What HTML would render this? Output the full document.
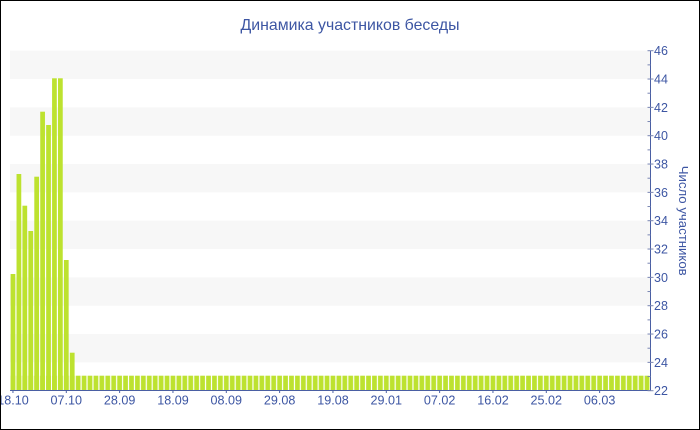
<!DOCTYPE html>
<html>
<head>
<meta charset="utf-8">
<style>
html,body{margin:0;padding:0;background:#fff;}
svg{display:block;}
text{font-family:"Liberation Sans","DejaVu Sans",sans-serif;fill:#3d56a3;}
</style>
</head>
<body>
<svg width="700" height="430" viewBox="0 0 700 430" xmlns="http://www.w3.org/2000/svg">
<defs>
<pattern id="bp" x="10" y="0" width="5.925926" height="430" patternUnits="userSpaceOnUse">
<rect x="0.6" y="0" width="4.73" height="430" fill="#bde22f"/>
</pattern>
</defs>
<rect x="0" y="0" width="700" height="430" fill="#fff"/>
<g fill="#f7f7f7">
<rect x="10" y="50.7" width="640" height="28.33"/>
<rect x="10" y="107.4" width="640" height="28.33"/>
<rect x="10" y="164.0" width="640" height="28.33"/>
<rect x="10" y="220.7" width="640" height="28.33"/>
<rect x="10" y="277.4" width="640" height="28.33"/>
<rect x="10" y="334.0" width="640" height="28.33"/>
</g>
<rect x="10" y="375.7" width="640" height="14.8" fill="url(#bp)"/>
<g fill="#bde22f">
<rect x="10.60" y="274" width="4.73" height="116.5"/>
<rect x="16.53" y="174" width="4.73" height="216.5"/>
<rect x="22.45" y="205.7" width="4.73" height="184.8"/>
<rect x="28.38" y="231" width="4.73" height="159.5"/>
<rect x="34.30" y="176.7" width="4.73" height="213.8"/>
<rect x="40.23" y="111.7" width="4.73" height="278.8"/>
<rect x="46.16" y="125" width="4.73" height="265.5"/>
<rect x="52.08" y="78.3" width="4.73" height="312.2"/>
<rect x="58.01" y="78.3" width="4.73" height="312.2"/>
<rect x="63.93" y="260" width="4.73" height="130.5"/>
<rect x="69.86" y="352.7" width="4.73" height="37.8"/>
</g>
<g stroke="#4a5fa3" stroke-width="1">
<line x1="650.5" y1="50.7" x2="650.5" y2="391"/>
<line x1="10" y1="390.5" x2="651" y2="390.5"/>
</g>
<g stroke="#7a86b3" stroke-width="1">
<line x1="647.5" x2="653.5" y1="390.7" y2="390.7"/>
<line x1="647.5" x2="650.5" y1="376.53" y2="376.53"/>
<line x1="647.5" x2="653.5" y1="362.37" y2="362.37"/>
<line x1="647.5" x2="650.5" y1="348.2" y2="348.2"/>
<line x1="647.5" x2="653.5" y1="334.03" y2="334.03"/>
<line x1="647.5" x2="650.5" y1="319.87" y2="319.87"/>
<line x1="647.5" x2="653.5" y1="305.7" y2="305.7"/>
<line x1="647.5" x2="650.5" y1="291.53" y2="291.53"/>
<line x1="647.5" x2="653.5" y1="277.37" y2="277.37"/>
<line x1="647.5" x2="650.5" y1="263.2" y2="263.2"/>
<line x1="647.5" x2="653.5" y1="249.03" y2="249.03"/>
<line x1="647.5" x2="650.5" y1="234.87" y2="234.87"/>
<line x1="647.5" x2="653.5" y1="220.7" y2="220.7"/>
<line x1="647.5" x2="650.5" y1="206.53" y2="206.53"/>
<line x1="647.5" x2="653.5" y1="192.37" y2="192.37"/>
<line x1="647.5" x2="650.5" y1="178.2" y2="178.2"/>
<line x1="647.5" x2="653.5" y1="164.03" y2="164.03"/>
<line x1="647.5" x2="650.5" y1="149.87" y2="149.87"/>
<line x1="647.5" x2="653.5" y1="135.7" y2="135.7"/>
<line x1="647.5" x2="650.5" y1="121.53" y2="121.53"/>
<line x1="647.5" x2="653.5" y1="107.37" y2="107.37"/>
<line x1="647.5" x2="650.5" y1="93.2" y2="93.2"/>
<line x1="647.5" x2="653.5" y1="79.03" y2="79.03"/>
<line x1="647.5" x2="650.5" y1="64.87" y2="64.87"/>
<line x1="647.5" x2="653.5" y1="50.7" y2="50.7"/>
</g>
<g font-size="12.5">
<text x="654" y="395.2">22</text>
<text x="654" y="366.9">24</text>
<text x="654" y="338.5">26</text>
<text x="654" y="310.2">28</text>
<text x="654" y="281.9">30</text>
<text x="654" y="253.5">32</text>
<text x="654" y="225.2">34</text>
<text x="654" y="196.9">36</text>
<text x="654" y="168.5">38</text>
<text x="654" y="140.2">40</text>
<text x="654" y="111.9">42</text>
<text x="654" y="83.5">44</text>
<text x="654" y="55.2">46</text>
</g>
<g stroke="#4a5fa3" stroke-width="1">
<line x1="12.96" x2="12.96" y1="390" y2="393"/>
<line x1="66.30" x2="66.30" y1="390" y2="393"/>
<line x1="119.63" x2="119.63" y1="390" y2="393"/>
<line x1="172.96" x2="172.96" y1="390" y2="393"/>
<line x1="226.30" x2="226.30" y1="390" y2="393"/>
<line x1="279.63" x2="279.63" y1="390" y2="393"/>
<line x1="332.96" x2="332.96" y1="390" y2="393"/>
<line x1="386.30" x2="386.30" y1="390" y2="393"/>
<line x1="439.63" x2="439.63" y1="390" y2="393"/>
<line x1="492.96" x2="492.96" y1="390" y2="393"/>
<line x1="546.30" x2="546.30" y1="390" y2="393"/>
<line x1="599.63" x2="599.63" y1="390" y2="393"/>
</g>
<g font-size="12.5" text-anchor="middle">
<text x="12.96" y="404.5" textLength="31.5" lengthAdjust="spacingAndGlyphs">18.10</text>
<text x="66.30" y="404.5" textLength="31.5" lengthAdjust="spacingAndGlyphs">07.10</text>
<text x="119.63" y="404.5" textLength="31.5" lengthAdjust="spacingAndGlyphs">28.09</text>
<text x="172.96" y="404.5" textLength="31.5" lengthAdjust="spacingAndGlyphs">18.09</text>
<text x="226.30" y="404.5" textLength="31.5" lengthAdjust="spacingAndGlyphs">08.09</text>
<text x="279.63" y="404.5" textLength="31.5" lengthAdjust="spacingAndGlyphs">29.08</text>
<text x="332.96" y="404.5" textLength="31.5" lengthAdjust="spacingAndGlyphs">19.08</text>
<text x="386.30" y="404.5" textLength="31.5" lengthAdjust="spacingAndGlyphs">29.01</text>
<text x="439.63" y="404.5" textLength="31.5" lengthAdjust="spacingAndGlyphs">07.02</text>
<text x="492.96" y="404.5" textLength="31.5" lengthAdjust="spacingAndGlyphs">16.02</text>
<text x="546.30" y="404.5" textLength="31.5" lengthAdjust="spacingAndGlyphs">25.02</text>
<text x="599.63" y="404.5" textLength="31.5" lengthAdjust="spacingAndGlyphs">06.03</text>
</g>
<text x="350" y="30" font-size="16" text-anchor="middle" textLength="219" lengthAdjust="spacingAndGlyphs">Динамика участников беседы</text>
<text transform="translate(679,220.7) rotate(90)" font-size="13" text-anchor="middle" textLength="110" lengthAdjust="spacingAndGlyphs">Число участников</text>
<rect x="0.5" y="0.5" width="699" height="429" fill="none" stroke="#000" stroke-width="1"/>
</svg>
</body>
</html>
